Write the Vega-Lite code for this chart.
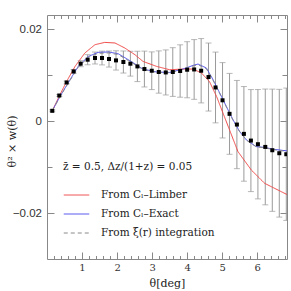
{
  "$schema": "https://vega.github.io/schema/vega-lite/v6.json",
  "width": 240,
  "height": 244,
  "autosize": {"type": "none"},
  "padding": {"left": 47, "top": 15, "right": 4, "bottom": 32},
  "background": "white",
  "config": {
    "view": {"stroke": null},
    "axis": {"domainColor": "#888", "tickColor": "#888", "labelColor": "#333", "titleColor": "#222", "grid": false, "titleFontWeight": "normal", "labelFlush": false, "labelOverlap": false}
  },
  "datasets": {
    "pts": [
      {"theta": 0.15, "w": 0.00225, "err": 0.0002},
      {"theta": 0.35, "w": 0.00558, "err": 0.0002},
      {"theta": 0.56, "w": 0.00842, "err": 0.0003},
      {"theta": 0.76, "w": 0.01082, "err": 0.0004},
      {"theta": 0.96, "w": 0.0125, "err": 0.00065},
      {"theta": 1.16, "w": 0.01337, "err": 0.0011},
      {"theta": 1.37, "w": 0.01374, "err": 0.0013},
      {"theta": 1.57, "w": 0.01374, "err": 0.0015},
      {"theta": 1.77, "w": 0.01352, "err": 0.00175},
      {"theta": 1.97, "w": 0.01322, "err": 0.0021},
      {"theta": 2.18, "w": 0.01287, "err": 0.0024},
      {"theta": 2.38, "w": 0.0125, "err": 0.0027},
      {"theta": 2.58, "w": 0.01191, "err": 0.0033},
      {"theta": 2.78, "w": 0.01134, "err": 0.0039},
      {"theta": 2.99, "w": 0.01097, "err": 0.0041},
      {"theta": 3.19, "w": 0.01069, "err": 0.0046},
      {"theta": 3.39, "w": 0.0106, "err": 0.0049},
      {"theta": 3.59, "w": 0.01069, "err": 0.0053},
      {"theta": 3.8, "w": 0.01091, "err": 0.0057},
      {"theta": 4.0, "w": 0.01119, "err": 0.0061},
      {"theta": 4.2, "w": 0.01125, "err": 0.0065},
      {"theta": 4.4, "w": 0.01097, "err": 0.007},
      {"theta": 4.61, "w": 0.0096, "err": 0.0074},
      {"theta": 4.81, "w": 0.00733, "err": 0.0077},
      {"theta": 5.01, "w": 0.00454, "err": 0.0082},
      {"theta": 5.21, "w": 0.00159, "err": 0.0088},
      {"theta": 5.42, "w": -0.00074, "err": 0.0096},
      {"theta": 5.62, "w": -0.00277, "err": 0.0103},
      {"theta": 5.82, "w": -0.00423, "err": 0.0111},
      {"theta": 6.02, "w": -0.00502, "err": 0.0119},
      {"theta": 6.23, "w": -0.00561, "err": 0.0126},
      {"theta": 6.43, "w": -0.00633, "err": 0.0133},
      {"theta": 6.63, "w": -0.00698, "err": 0.0139},
      {"theta": 6.83, "w": -0.0072, "err": 0.0144}
    ],
    "curves": [
      {"series": "From Cₗ–Limber", "theta": 0.15, "w": 0.00225},
      {"series": "From Cₗ–Limber", "theta": 0.37, "w": 0.00574},
      {"series": "From Cₗ–Limber", "theta": 0.56, "w": 0.00864},
      {"series": "From Cₗ–Limber", "theta": 0.8, "w": 0.01191},
      {"series": "From Cₗ–Limber", "theta": 1.08, "w": 0.01483},
      {"series": "From Cₗ–Limber", "theta": 1.37, "w": 0.01664},
      {"series": "From Cₗ–Limber", "theta": 1.65, "w": 0.01714},
      {"series": "From Cₗ–Limber", "theta": 1.94, "w": 0.01701},
      {"series": "From Cₗ–Limber", "theta": 2.22, "w": 0.01592},
      {"series": "From Cₗ–Limber", "theta": 2.51, "w": 0.01446},
      {"series": "From Cₗ–Limber", "theta": 2.74, "w": 0.013},
      {"series": "From Cₗ–Limber", "theta": 3.13, "w": 0.01191},
      {"series": "From Cₗ–Limber", "theta": 3.5, "w": 0.01119},
      {"series": "From Cₗ–Limber", "theta": 3.88, "w": 0.01134},
      {"series": "From Cₗ–Limber", "theta": 4.17, "w": 0.01134},
      {"series": "From Cₗ–Limber", "theta": 4.41, "w": 0.01047},
      {"series": "From Cₗ–Limber", "theta": 4.64, "w": 0.00857},
      {"series": "From Cₗ–Limber", "theta": 4.84, "w": 0.00537},
      {"series": "From Cₗ–Limber", "theta": 5.02, "w": 0.00181},
      {"series": "From Cₗ–Limber", "theta": 5.21, "w": -0.0019},
      {"series": "From Cₗ–Limber", "theta": 5.45, "w": -0.00663},
      {"series": "From Cₗ–Limber", "theta": 5.83, "w": -0.01062},
      {"series": "From Cₗ–Limber", "theta": 6.21, "w": -0.01352},
      {"series": "From Cₗ–Limber", "theta": 6.59, "w": -0.01498},
      {"series": "From Cₗ–Limber", "theta": 6.85, "w": -0.01597},
      {"series": "From Cₗ–Exact", "theta": 0.15, "w": 0.00225},
      {"series": "From Cₗ–Exact", "theta": 0.37, "w": 0.00537},
      {"series": "From Cₗ–Exact", "theta": 0.61, "w": 0.00842},
      {"series": "From Cₗ–Exact", "theta": 0.89, "w": 0.01191},
      {"series": "From Cₗ–Exact", "theta": 1.18, "w": 0.01409},
      {"series": "From Cₗ–Exact", "theta": 1.46, "w": 0.01496},
      {"series": "From Cₗ–Exact", "theta": 1.75, "w": 0.01505},
      {"series": "From Cₗ–Exact", "theta": 2.03, "w": 0.01468},
      {"series": "From Cₗ–Exact", "theta": 2.32, "w": 0.01337},
      {"series": "From Cₗ–Exact", "theta": 2.74, "w": 0.01134},
      {"series": "From Cₗ–Exact", "theta": 3.13, "w": 0.01069},
      {"series": "From Cₗ–Exact", "theta": 3.5, "w": 0.0106},
      {"series": "From Cₗ–Exact", "theta": 3.88, "w": 0.01134},
      {"series": "From Cₗ–Exact", "theta": 4.17, "w": 0.01213},
      {"series": "From Cₗ–Exact", "theta": 4.31, "w": 0.01243},
      {"series": "From Cₗ–Exact", "theta": 4.55, "w": 0.01156},
      {"series": "From Cₗ–Exact", "theta": 4.74, "w": 0.00901},
      {"series": "From Cₗ–Exact", "theta": 4.93, "w": 0.00611},
      {"series": "From Cₗ–Exact", "theta": 5.12, "w": 0.00318},
      {"series": "From Cₗ–Exact", "theta": 5.31, "w": 0.00028},
      {"series": "From Cₗ–Exact", "theta": 5.5, "w": -0.00227},
      {"series": "From Cₗ–Exact", "theta": 5.69, "w": -0.00408},
      {"series": "From Cₗ–Exact", "theta": 5.97, "w": -0.00554},
      {"series": "From Cₗ–Exact", "theta": 6.21, "w": -0.00571},
      {"series": "From Cₗ–Exact", "theta": 6.45, "w": -0.00611},
      {"series": "From Cₗ–Exact", "theta": 6.85, "w": -0.00648},
      {"series": "From ξ(r) integration", "theta": 0.15, "w": 0.00225},
      {"series": "From ξ(r) integration", "theta": 0.37, "w": 0.0053},
      {"series": "From ξ(r) integration", "theta": 0.61, "w": 0.0083},
      {"series": "From ξ(r) integration", "theta": 0.89, "w": 0.0117},
      {"series": "From ξ(r) integration", "theta": 1.18, "w": 0.0139},
      {"series": "From ξ(r) integration", "theta": 1.46, "w": 0.01475},
      {"series": "From ξ(r) integration", "theta": 1.75, "w": 0.01485},
      {"series": "From ξ(r) integration", "theta": 2.03, "w": 0.0145},
      {"series": "From ξ(r) integration", "theta": 2.32, "w": 0.0132},
      {"series": "From ξ(r) integration", "theta": 2.74, "w": 0.01125},
      {"series": "From ξ(r) integration", "theta": 3.13, "w": 0.01062},
      {"series": "From ξ(r) integration", "theta": 3.5, "w": 0.01055},
      {"series": "From ξ(r) integration", "theta": 3.88, "w": 0.01125},
      {"series": "From ξ(r) integration", "theta": 4.17, "w": 0.012},
      {"series": "From ξ(r) integration", "theta": 4.31, "w": 0.0123},
      {"series": "From ξ(r) integration", "theta": 4.55, "w": 0.0114},
      {"series": "From ξ(r) integration", "theta": 4.74, "w": 0.0089},
      {"series": "From ξ(r) integration", "theta": 4.93, "w": 0.006},
      {"series": "From ξ(r) integration", "theta": 5.12, "w": 0.0031},
      {"series": "From ξ(r) integration", "theta": 5.31, "w": 0.0002},
      {"series": "From ξ(r) integration", "theta": 5.5, "w": -0.0023},
      {"series": "From ξ(r) integration", "theta": 5.69, "w": -0.0041},
      {"series": "From ξ(r) integration", "theta": 5.97, "w": -0.0056},
      {"series": "From ξ(r) integration", "theta": 6.21, "w": -0.0058},
      {"series": "From ξ(r) integration", "theta": 6.45, "w": -0.0062},
      {"series": "From ξ(r) integration", "theta": 6.85, "w": -0.0066}
    ]
  },
  "layer": [
    {
      "data": {"name": "pts"},
      "mark": {"type": "errorbar", "ticks": {"size": 6}, "color": "#9a9a9a", "thickness": 1, "clip": true},
      "encoding": {
        "x": {"field": "theta", "type": "quantitative", "scale": {"domain": [0, 6.85], "nice": false, "zero": false},
          "axis": {"orient": "top", "title": null, "labels": false,
            "values": [0.2,0.4,0.6,0.8,1,1.2,1.4,1.6,1.8,2,2.2,2.4,2.6,2.8,3,3.2,3.4,3.6,3.8,4,4.2,4.4,4.6,4.8,5,5.2,5.4,5.6,5.8,6,6.2,6.4,6.6,6.8],
            "tickSize": {"condition": {"test": "abs(datum.value-round(datum.value))<0.001", "value": -7}, "value": -3.5}}},
        "y": {"field": "w", "type": "quantitative", "scale": {"domain": [-0.03, 0.0231], "nice": false, "zero": false},
          "axis": {"orient": "right", "title": null, "labels": false, "values": [-0.02,-0.01,0,0.01,0.02],
            "tickSize": {"condition": {"test": "abs(datum.value*100-round(datum.value*100/2)*2)<0.001", "value": -7}, "value": -5}}},
        "yError": {"field": "err"}
      }
    },
    {
      "data": {"name": "curves"},
      "mark": {"type": "line", "strokeWidth": 1, "clip": true},
      "encoding": {
        "x": {"field": "theta", "type": "quantitative",
          "axis": {"orient": "bottom", "title": "θ[deg]", "titleFont": "DejaVu Serif", "titleFontSize": 11, "titleBaseline": "middle", "titleY": 24,
            "labelFont": "DejaVu Serif", "labelFontSize": 10, "labelPadding": 10,
            "values": [0.2,0.4,0.6,0.8,1,1.2,1.4,1.6,1.8,2,2.2,2.4,2.6,2.8,3,3.2,3.4,3.6,3.8,4,4.2,4.4,4.6,4.8,5,5.2,5.4,5.6,5.8,6,6.2,6.4,6.6,6.8],
            "labelExpr": "abs(datum.value-round(datum.value))<0.001 ? format(datum.value,'d') : ''",
            "tickSize": {"condition": {"test": "abs(datum.value-round(datum.value))<0.001", "value": -7}, "value": -3.5}}},
        "y": {"field": "w", "type": "quantitative",
          "axis": {"orient": "left", "title": "θ² × w(θ)", "titleFont": "DejaVu Serif", "titleFontSize": 11, "titleAngle": -90, "titleX": -35, "titleY": 126, "titleAlign": "center", "titleBaseline": "middle",
            "labelFont": "Liberation Sans", "labelFontSize": 11.5, "labelPadding": 12.5,
            "values": [-0.02,-0.01,0,0.01,0.02],
            "labelExpr": "datum.value==0 ? '0' : (abs(datum.value-0.02)<1e-9 ? '0.02' : (abs(datum.value+0.02)<1e-9 ? '−0.02' : ''))",
            "tickSize": {"condition": {"test": "abs(datum.value*100-round(datum.value*100/2)*2)<0.001", "value": -7}, "value": -5}}},
        "color": {"field": "series", "type": "nominal",
          "scale": {"domain": ["From Cₗ–Limber", "From Cₗ–Exact", "From ξ(r) integration"], "range": ["#f04545", "#4a4aee", "#8a8a8a"]},
          "legend": {"orient": "none", "legendX": 16, "legendY": 147, "title": "z̄ = 0.5, Δz/(1+z) = 0.05", "titleFont": "DejaVu Serif", "titleFontSize": 10.5, "titleFontWeight": "normal", "titleColor": "#222", "titlePadding": 9, "titleLimit": 400,
            "labelFont": "DejaVu Serif", "labelFontSize": 10.5, "labelColor": "#222", "labelLimit": 400, "labelOffset": 11,
            "symbolType": "stroke", "symbolSize": 650, "symbolStrokeWidth": 1, "rowPadding": -2, "padding": 0}},
        "strokeDash": {"field": "series", "type": "nominal",
          "scale": {"domain": ["From Cₗ–Limber", "From Cₗ–Exact", "From ξ(r) integration"], "range": [[1, 0], [1, 0], [4, 3]]},
          "legend": {"orient": "none", "legendX": 16, "legendY": 147, "title": "z̄ = 0.5, Δz/(1+z) = 0.05", "titleFont": "DejaVu Serif", "titleFontSize": 10.5, "titleFontWeight": "normal", "titleColor": "#222", "titlePadding": 9, "titleLimit": 400,
            "labelFont": "DejaVu Serif", "labelFontSize": 10.5, "labelColor": "#222", "labelLimit": 400, "labelOffset": 11,
            "symbolType": "stroke", "symbolSize": 650, "symbolStrokeWidth": 1, "rowPadding": -2, "padding": 0}}
      }
    },
    {
      "data": {"name": "pts"},
      "mark": {"type": "square", "size": 16, "color": "black", "filled": true, "opacity": 1, "clip": true},
      "encoding": {
        "x": {"field": "theta", "type": "quantitative", "axis": null},
        "y": {"field": "w", "type": "quantitative", "axis": null}
      }
    }
  ],
  "resolve": {"axis": {"x": "independent", "y": "independent"}}
}
